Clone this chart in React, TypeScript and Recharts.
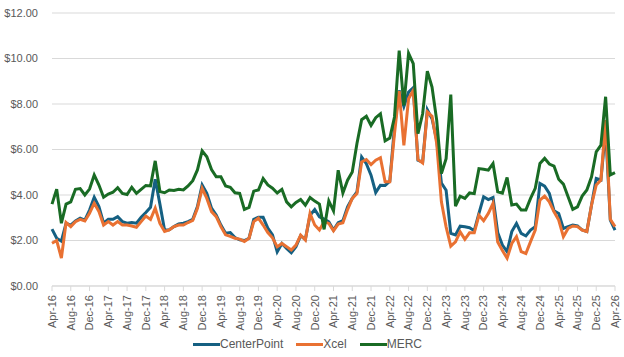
import { CartesianGrid, Legend, Line, LineChart, XAxis, YAxis } from "recharts";

const monthNames = ["Apr", "May", "Jun", "Jul", "Aug", "Sep", "Oct", "Nov", "Dec", "Jan", "Feb", "Mar"];
const startYear = 16;
const monthCount = 121;

const centerPoint = [
  2.5, 2.1, 1.97, 2.76, 2.68, 2.86, 2.98, 2.9, 3.34, 3.9, 3.49, 2.76,
  2.93, 2.93, 3.05, 2.83, 2.76, 2.79, 2.76, 3.02, 3.23, 3.46, 4.69, 3.6,
  2.45, 2.47, 2.61, 2.73, 2.76, 2.83, 2.93, 3.49, 4.44, 4.07, 3.42, 3.12,
  2.68, 2.32, 2.35, 2.13, 2.03, 2.0, 2.1, 2.93, 3.02, 3.02, 2.54, 2.25,
  1.5, 1.87, 1.65, 1.46, 1.73, 2.21, 2.05, 3.11, 3.36, 3.04, 2.94, 2.82,
  2.46, 2.78, 2.87, 3.48, 3.85, 4.14, 5.67, 5.38, 4.87, 4.11, 4.43, 4.42,
  4.6, 6.99, 8.6, 7.89, 8.52, 8.71, 5.53, 5.45, 7.75, 7.35, 6.4, 4.53,
  4.21, 2.31, 2.24, 2.63, 2.6, 2.56, 2.43, 3.19, 3.92, 3.8, 3.89, 2.35,
  1.8, 1.51, 2.39, 2.75, 2.31, 2.2, 2.46, 2.61, 4.51, 4.39, 4.07, 3.31,
  3.19, 2.53, 2.61, 2.68, 2.64, 2.46, 2.39, 3.56, 4.73, 4.66, 6.9, 2.9,
  2.46,
];

const xcel = [
  1.88, 2.0, 1.23, 2.79, 2.61, 2.83, 2.93, 2.86, 3.2, 3.64, 3.27, 2.68,
  2.83, 2.68, 2.83, 2.68, 2.68, 2.64, 2.58, 2.83, 3.08, 2.93, 3.42, 2.75,
  2.4, 2.47, 2.61, 2.68, 2.68, 2.79, 2.88, 3.42, 4.29, 3.85, 3.27, 3.05,
  2.61, 2.25, 2.18, 2.1, 2.06, 1.96, 2.1, 2.83, 2.98, 2.68, 2.35, 2.12,
  1.72, 1.87, 1.73, 1.58, 1.8, 2.24, 2.02, 3.19, 2.68, 2.46, 2.82, 2.75,
  2.43, 2.72, 2.78, 3.36, 3.85, 4.06, 5.45, 5.56, 5.34, 5.53, 5.64, 4.58,
  4.58, 6.7, 8.57, 6.18, 8.23, 8.6, 5.56, 5.41, 7.65, 7.46, 6.26, 3.7,
  2.6, 1.75, 1.94, 2.38, 2.05, 2.34, 2.34, 3.11, 2.87, 3.19, 3.63, 1.93,
  1.56, 1.22, 1.87, 2.17, 1.51, 1.43, 1.95, 2.46, 3.78, 3.95, 3.7, 3.26,
  2.9, 2.17, 2.53, 2.64, 2.61, 2.46, 2.39, 3.56, 4.44, 4.66, 7.29, 2.93,
  2.61,
];

const merc = [
  3.6, 4.26, 2.76, 3.6, 3.7, 4.25, 4.28, 4.0, 4.26, 4.88, 4.44, 3.9,
  4.04, 4.12, 4.32, 4.07, 4.02, 4.34, 4.07, 4.25, 4.42, 4.4, 5.5, 4.15,
  4.1, 4.22, 4.2, 4.25, 4.22, 4.4, 4.63, 5.1, 5.94, 5.68, 5.12, 4.8,
  4.8, 4.4, 4.34, 4.1, 4.07, 3.37, 3.46, 4.17, 4.22, 4.72, 4.44, 4.3,
  4.09, 4.25, 3.7, 3.48, 3.67, 3.8, 3.55, 3.89, 3.73, 3.6, 2.49, 3.74,
  3.3, 5.09, 4.09, 4.65, 5.01, 6.26, 7.31, 7.46, 7.06, 7.4, 7.57, 6.38,
  6.5, 7.43, 10.35, 7.94, 10.23, 9.77, 6.7, 7.57, 9.44, 8.74, 7.28, 4.94,
  5.6, 8.41, 3.51, 3.95, 3.85, 4.09, 4.06, 5.16, 5.13, 5.09, 5.38, 4.14,
  4.08, 4.77, 3.56, 3.6, 3.34, 3.34, 3.85, 4.29, 5.39, 5.61, 5.36, 5.27,
  4.69, 4.48, 3.92, 3.37, 3.48, 3.95, 4.22, 4.8, 5.9, 6.19, 8.32, 4.88,
  4.98,
];

const yTicks = [0, 2, 4, 6, 8, 10, 12];

const seriesList = [
  { key: "centerPoint", name: "CenterPoint", color: "#156082" },
  { key: "xcel", name: "Xcel", color: "#E97132" },
  { key: "merc", name: "MERC", color: "#196B24" },
];

function monthLabel(index: number) {
  const name = monthNames[index % 12];
  const year = startYear + Math.floor((index + 3) / 12);
  return `${name}-${year}`;
}

const data = Array.from({ length: monthCount }, (_, i) => ({
  label: monthLabel(i),
  centerPoint: centerPoint[i],
  xcel: xcel[i],
  merc: merc[i],
}));

const font = "'Liberation Sans', Arial, sans-serif";

function RotatedTick({ x, y, payload }: { x?: number; y?: number; payload?: { value: string } }) {
  return (
    <text
      x={x}
      y={(y ?? 0) + 2}
      dy="0.35em"
      transform={`rotate(-90, ${x}, ${(y ?? 0) + 2})`}
      textAnchor="end"
      fill="#595959"
      fontSize={11}
      fontFamily={font}
    >
      {payload?.value}
    </text>
  );
}

function ChartLegend() {
  return (
    <div style={{ height: 26, display: "flex", justifyContent: "center", alignItems: "center", gap: 13, fontFamily: font, fontSize: 12, color: "#595959" }}>
      {seriesList.map((s) => (
        <span key={s.key} style={{ display: "inline-flex", alignItems: "center" }}>
          <i style={{ display: "inline-block", width: 27, height: 3, background: s.color }} />
          {s.name}
        </span>
      ))}
    </div>
  );
}

export default function App() {
  return (
    <div style={{ position: "absolute", left: 0, top: 0, width: 624, height: 357, background: "#fff" }}>
      <LineChart width={624} height={357} data={data} margin={{ top: 13, right: 9, left: 0, bottom: 0 }}>
        <CartesianGrid stroke="#D9D9D9" vertical={false} />
        <XAxis
          dataKey="label"
          interval={3}
          height={45}
          stroke="#D9D9D9"
          tickSize={5}
          tick={<RotatedTick />}
        />
        <YAxis
          domain={[0, 12]}
          ticks={yTicks}
          width={52}
          axisLine={false}
          tickLine={false}
          tickMargin={8}
          tickFormatter={(v: number) => `$${v.toFixed(2)}`}
          tick={{ fill: "#595959", fontSize: 11, fontFamily: font }}
        />
        <Legend verticalAlign="bottom" content={<ChartLegend />} />
        {seriesList.map((s) => (
          <Line
            key={s.key}
            type="linear"
            dataKey={s.key}
            name={s.name}
            stroke={s.color}
            strokeWidth={3}
            dot={false}
            isAnimationActive={false}
          />
        ))}
      </LineChart>
    </div>
  );
}
